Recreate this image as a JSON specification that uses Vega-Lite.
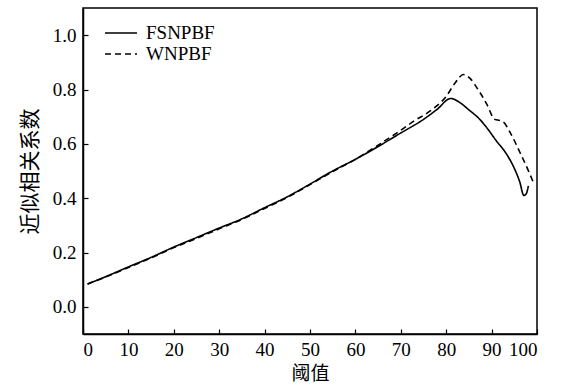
{
  "$schema": "https://vega.github.io/schema/vega-lite/v6.json",
  "width": 454,
  "height": 326,
  "autosize": "none",
  "padding": {"left": 83, "top": 8, "right": 29, "bottom": 54},
  "background": "white",
  "config": {
    "view": {"stroke": "black", "strokeWidth": 1.5},
    "font": "Liberation Serif",
    "axis": {
      "domainColor": "black", "domainWidth": 1.5, "tickColor": "black", "tickWidth": 1.2,
      "grid": false, "labelColor": "black", "titleColor": "black",
      "labelFont": "Liberation Serif", "labelFontSize": 19, "titleFontWeight": "normal",
      "titleFont": "Noto Sans CJK SC", "titleFontSize": 19
    }
  },
  "data": {
    "values": [
      {"x": 1, "y": 0.084, "s": "FSNPBF"},
      {"x": 5, "y": 0.111, "s": "FSNPBF"},
      {"x": 10, "y": 0.147, "s": "FSNPBF"},
      {"x": 15, "y": 0.182, "s": "FSNPBF"},
      {"x": 20, "y": 0.22, "s": "FSNPBF"},
      {"x": 25, "y": 0.255, "s": "FSNPBF"},
      {"x": 30, "y": 0.29, "s": "FSNPBF"},
      {"x": 35, "y": 0.324, "s": "FSNPBF"},
      {"x": 40, "y": 0.365, "s": "FSNPBF"},
      {"x": 45, "y": 0.405, "s": "FSNPBF"},
      {"x": 50, "y": 0.452, "s": "FSNPBF"},
      {"x": 55, "y": 0.5, "s": "FSNPBF"},
      {"x": 60, "y": 0.543, "s": "FSNPBF"},
      {"x": 65, "y": 0.59, "s": "FSNPBF"},
      {"x": 70, "y": 0.64, "s": "FSNPBF"},
      {"x": 75, "y": 0.69, "s": "FSNPBF"},
      {"x": 78, "y": 0.727, "s": "FSNPBF"},
      {"x": 81, "y": 0.767, "s": "FSNPBF"},
      {"x": 83, "y": 0.752, "s": "FSNPBF"},
      {"x": 85, "y": 0.725, "s": "FSNPBF"},
      {"x": 87.4, "y": 0.69, "s": "FSNPBF"},
      {"x": 89, "y": 0.658, "s": "FSNPBF"},
      {"x": 91, "y": 0.612, "s": "FSNPBF"},
      {"x": 93.3, "y": 0.562, "s": "FSNPBF"},
      {"x": 95, "y": 0.51, "s": "FSNPBF"},
      {"x": 96.2, "y": 0.46, "s": "FSNPBF"},
      {"x": 97.1, "y": 0.41, "s": "FSNPBF"},
      {"x": 97.6, "y": 0.415, "s": "FSNPBF"},
      {"x": 98.1, "y": 0.445, "s": "FSNPBF"},
      {"x": 1, "y": 0.084, "s": "WNPBF"},
      {"x": 5, "y": 0.11, "s": "WNPBF"},
      {"x": 10, "y": 0.145, "s": "WNPBF"},
      {"x": 15, "y": 0.18, "s": "WNPBF"},
      {"x": 20, "y": 0.218, "s": "WNPBF"},
      {"x": 25, "y": 0.252, "s": "WNPBF"},
      {"x": 30, "y": 0.287, "s": "WNPBF"},
      {"x": 35, "y": 0.322, "s": "WNPBF"},
      {"x": 40, "y": 0.362, "s": "WNPBF"},
      {"x": 45, "y": 0.403, "s": "WNPBF"},
      {"x": 50, "y": 0.45, "s": "WNPBF"},
      {"x": 55, "y": 0.498, "s": "WNPBF"},
      {"x": 60, "y": 0.543, "s": "WNPBF"},
      {"x": 65, "y": 0.595, "s": "WNPBF"},
      {"x": 70, "y": 0.65, "s": "WNPBF"},
      {"x": 73, "y": 0.685, "s": "WNPBF"},
      {"x": 76.4, "y": 0.72, "s": "WNPBF"},
      {"x": 80, "y": 0.775, "s": "WNPBF"},
      {"x": 82, "y": 0.825, "s": "WNPBF"},
      {"x": 83.8, "y": 0.855, "s": "WNPBF"},
      {"x": 85.2, "y": 0.842, "s": "WNPBF"},
      {"x": 86.7, "y": 0.808, "s": "WNPBF"},
      {"x": 88.9, "y": 0.747, "s": "WNPBF"},
      {"x": 90.7, "y": 0.69, "s": "WNPBF"},
      {"x": 91.8, "y": 0.686, "s": "WNPBF"},
      {"x": 92.6, "y": 0.68, "s": "WNPBF"},
      {"x": 94.3, "y": 0.635, "s": "WNPBF"},
      {"x": 96.2, "y": 0.57, "s": "WNPBF"},
      {"x": 98, "y": 0.505, "s": "WNPBF"},
      {"x": 99.2, "y": 0.458, "s": "WNPBF"}
    ]
  },
  "mark": {"type": "line", "color": "black", "strokeWidth": 1.6, "interpolate": "monotone", "clip": true},
  "encoding": {
    "x": {
      "field": "x", "type": "quantitative",
      "scale": {"domain": [0, 100], "nice": false},
      "axis": {"values": [0,10,20,30,40,50,60,70,80,90,100], "title": "阈值", "tickSize": -5, "labelPadding": 11, "titlePadding": 5, "labelFont": "Liberation Serif", "labelFontSize": 19}
    },
    "y": {
      "field": "y", "type": "quantitative",
      "scale": {"domain": [-0.1, 1.1], "nice": false, "zero": false},
      "axis": {"values": [0, 0.2, 0.4, 0.6, 0.8, 1.0], "format": ".1f", "title": "近似相关系数", "titleFontSize": 21, "tickSize": -5, "labelPadding": 12, "titlePadding": 12, "labelFont": "Liberation Serif", "labelFontSize": 19}
    },
    "strokeDash": {
      "field": "s", "type": "nominal",
      "scale": {"domain": ["FSNPBF", "WNPBF"], "range": [[1, 0], [6, 4]]},
      "legend": {
        "orient": "none", "legendX": 27, "legendY": 14, "title": null,
        "symbolType": "M-1.6,0H1.6", "symbolSize": 400, "symbolStrokeWidth": 1.6, "symbolStrokeColor": "black", "symbolFillColor": "transparent",
        "labelFont": "Liberation Serif", "labelFontSize": 19, "labelColor": "black", "rowPadding": -3, "labelOffset": 14
      }
    }
  }
}
